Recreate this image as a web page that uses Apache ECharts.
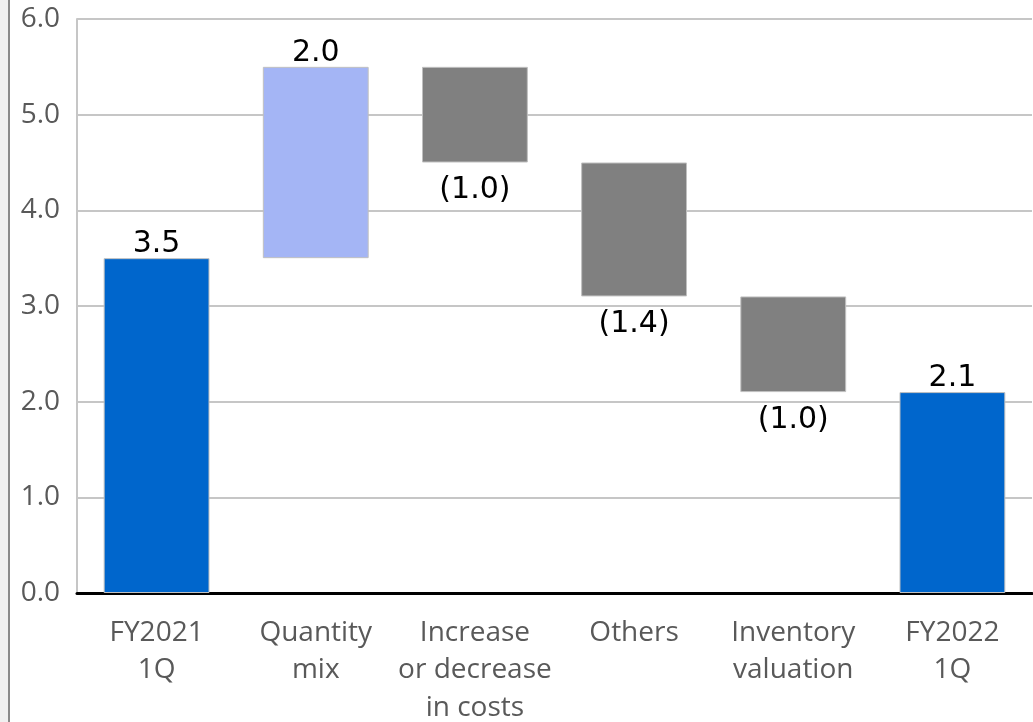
<!DOCTYPE html>
<html>
<head>
<meta charset="utf-8">
<style>
  html, body { margin: 0; padding: 0; background: #ffffff; }
  #chart { width: 1033px; height: 722px; }
</style>
<script src="https://cdn.jsdelivr.net/npm/echarts@6/dist/echarts.min.js"></script>
</head>
<body>
<div id="chart"></div>
<script>
// Operating profit bridge, FY2021 1Q -> FY2022 1Q
const categories = ['FY2021\n1Q', 'Quantity\nmix', 'Increase\nor decrease\nin costs', 'Others', 'Inventory\nvaluation', 'FY2022\n1Q'];
// Totals are absolute values; the middle steps are changes
const changes = [3.5, 2.0, -1.0, -1.4, -1.0, 2.1];
const kinds = ['total', 'step', 'step', 'step', 'step', 'total'];
const yTicks = { min: 0, max: 6, interval: 1 };

const colors = { total: '#0066cc', up: '#a4b5f5', down: '#808080' };

// Floating base for each step: running total before a rise, after a fall
const bases = [];
const heights = [];
let running = 0;
changes.forEach((v, i) => {
  if (kinds[i] === 'total') {
    bases.push(0);
    heights.push(v);
    running = v;
  } else if (v >= 0) {
    bases.push(running);
    heights.push(v);
    running += v;
  } else {
    running += v;
    bases.push(running);
    heights.push(-v);
  }
});

const fmt = v => v < 0 ? '(' + Math.abs(v).toFixed(1) + ')' : v.toFixed(1);

const visible = heights.map((h, i) => {
  const v = changes[i];
  const color = kinds[i] === 'total' ? colors.total : (v >= 0 ? colors.up : colors.down);
  return {
    value: h,
    itemStyle: { color: color },
    label: {
      show: true,
      position: v >= 0 ? 'top' : 'bottom',
      distance: v >= 0 ? -1 : 13,
      formatter: () => fmt(v)
    }
  };
});

const chart = echarts.init(document.getElementById('chart'), null, { renderer: 'canvas' });
chart.setOption({
  animation: false,
  backgroundColor: '#ffffff',
  grid: { left: 77, top: 19, right: 1, bottom: 129, containLabel: false, outerBoundsMode: 'none' },
  graphic: [
    { type: 'rect', left: 0, top: 0, shape: { width: 8, height: 722 }, style: { fill: '#f0f0f0' }, silent: true },
    { type: 'rect', left: 8, top: 0, shape: { width: 2, height: 722 }, style: { fill: '#8a8a8a' }, silent: true }
  ],
  xAxis: {
    type: 'category',
    data: categories,
    axisLine: { show: true, lineStyle: { color: '#000000', width: 3 } },
    axisTick: { show: false },
    axisLabel: {
      color: '#595959',
      fontFamily: 'Open Sans',
      fontSize: 28,
      lineHeight: 37.5,
      margin: 21,
      interval: 0
    }
  },
  yAxis: {
    type: 'value',
    min: yTicks.min,
    max: yTicks.max,
    interval: yTicks.interval,
    axisLine: { show: true, lineStyle: { color: '#c6c6c6', width: 2 } },
    axisTick: { show: false },
    splitLine: { lineStyle: { color: '#c6c6c6', width: 2 } },
    axisLabel: {
      color: '#595959',
      fontFamily: 'Open Sans',
      fontSize: 28,
      margin: 17,
      formatter: v => v.toFixed(1)
    }
  },
  series: [
    {
      name: 'base',
      type: 'bar',
      stack: 'bridge',
      data: bases,
      itemStyle: { color: 'transparent' },
      emphasis: { disabled: true },
      barWidth: '66.5%',
      silent: true
    },
    {
      name: 'change',
      type: 'bar',
      stack: 'bridge',
      data: visible,
      barWidth: '66.5%',
      itemStyle: { borderColor: '#c0c0c0', borderWidth: 1 },
      label: {
        color: '#000000',
        fontFamily: 'DejaVu Sans',
        fontSize: 30
      }
    }
  ]
});
</script>
</body>
</html>
